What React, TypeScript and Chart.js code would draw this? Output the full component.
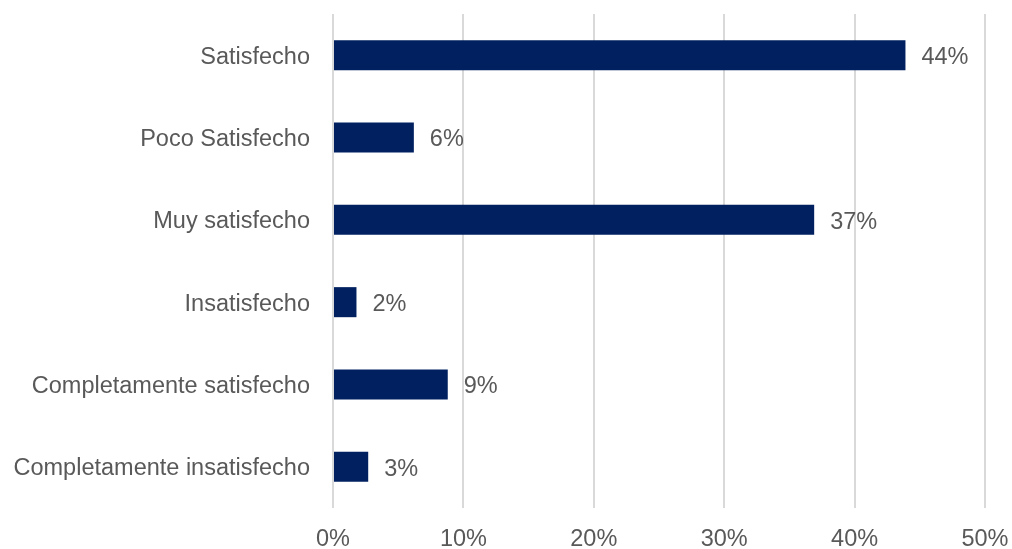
import React, { useEffect, useRef } from "react";
import { Chart, registerables } from "chart.js";

Chart.register(...registerables);

const categories: string[] = [
  "Satisfecho",
  "Poco Satisfecho",
  "Muy satisfecho",
  "Insatisfecho",
  "Completamente satisfecho",
  "Completamente insatisfecho",
];

const values: number[] = [43.9, 6.2, 36.9, 1.8, 8.8, 2.7];

const xTickMin = 0;
const xTickMax = 50;
const xTickStep = 10;

const FONT = "'Liberation Sans', Arial, sans-serif";
const TEXT_COLOR = "#595959";
const BAR_COLOR = "#002060";
const GRID_COLOR = "#d9d9d9";

const valueLabelPlugin = {
  id: "valueLabels",
  afterDatasetsDraw(chart: any) {
    const ctx = chart.ctx;
    const meta = chart.getDatasetMeta(0);
    ctx.save();
    ctx.font = `23.5px ${FONT}`;
    ctx.fillStyle = TEXT_COLOR;
    ctx.textAlign = "left";
    ctx.textBaseline = "middle";
    meta.data.forEach((bar: any, i: number) => {
      const v = chart.data.datasets[0].data[i] as number;
      ctx.fillText(`${Math.round(v)}%`, bar.x + 16, bar.y + 2.5);
    });
    ctx.restore();
  },
};

export default function App() {
  const canvasRef = useRef<HTMLCanvasElement | null>(null);

  useEffect(() => {
    if (!canvasRef.current) return;
    const chart = new Chart(canvasRef.current, {
      type: "bar",
      data: {
        labels: categories,
        datasets: [
          {
            data: values,
            backgroundColor: BAR_COLOR,
            borderWidth: 0,
            categoryPercentage: 1,
            barPercentage: 0.365,
          },
        ],
      },
      options: {
        indexAxis: "y",
        animation: false,
        responsive: true,
        maintainAspectRatio: false,
        layout: { padding: { top: 14, right: 27, bottom: 0, left: 0 } },
        plugins: {
          legend: { display: false },
          tooltip: { enabled: false },
        },
        scales: {
          x: {
            min: xTickMin,
            max: xTickMax,
            ticks: {
              stepSize: xTickStep,
              color: TEXT_COLOR,
              font: { family: FONT, size: 23.5 },
              padding: 17,
              callback: (v: any) => `${v}%`,
            },
            grid: {
              color: GRID_COLOR,
              lineWidth: 2,
              drawTicks: false,
            },
            border: { display: false },
            afterFit: (scale: any) => {
              scale.height = 41;
              scale.paddingLeft = 0;
              scale.paddingRight = 0;
            },
          },
          y: {
            ticks: {
              color: TEXT_COLOR,
              font: { family: FONT, size: 23.5 },
              padding: 23,
              labelOffset: 2,
            },
            grid: { display: false, drawTicks: false },
            border: { display: false },
            afterFit: (scale: any) => {
              scale.width = 333;
              scale.paddingTop = 0;
              scale.paddingBottom = 0;
            },
          },
        },
      },
      plugins: [valueLabelPlugin],
    });
    return () => chart.destroy();
  }, []);

  return (
    <div style={{ position: "absolute", left: 0, top: 0, width: 1012, height: 549, background: "#fff" }}>
      <canvas ref={canvasRef} />
    </div>
  );
}
